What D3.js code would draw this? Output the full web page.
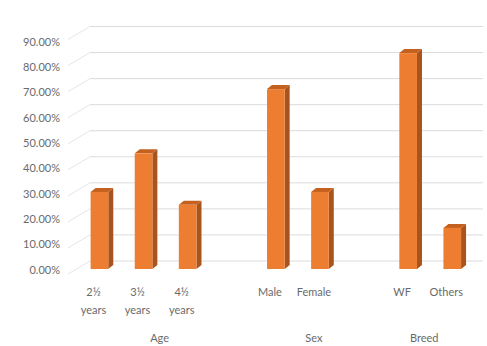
<!DOCTYPE html>
<html><head><meta charset="utf-8">
<script src="https://cdn.jsdelivr.net/npm/d3@7"></script>
<style>body{margin:0;background:#fff}svg{display:block}text{font-family:Lato,"Open Sans",sans-serif;fill:#6a6a6a;font-size:11px}</style>
</head><body><svg id="c" width="487" height="346"></svg>
<script>
// slots incl. blank separators (as in the source sheet)
const categories = ["2½ years","3½ years","4½ years","","Male","Female","","WF","Others"];
const values     = [0.30, 0.45, 0.25, null, 0.70, 0.30, null, 0.84, 0.16];
const groups     = [{name:"Age",from:0,to:3},{name:"Sex",from:4,to:6},{name:"Breed",from:7,to:8}];
const yTicks     = [0,0.1,0.2,0.3,0.4,0.5,0.6,0.7,0.8,0.9];

const svg = d3.select("#c");
const slots = d3.range(categories.length);
const x = d3.scaleBand().domain(slots).range([77.4, 474.3]).padding(0);
const yBack  = d3.scaleLinear().domain([0,0.9]).range([261,26.5]);
const yFront = d3.scaleLinear().domain([0,0.9]).range([270,41.7]);
const yBar   = d3.scaleLinear().domain([0,0.9]).range([269,37.7]);
const depthX = 5, depthY = 4;

// gridlines: back wall + left wall diagonals
const g = svg.append("g");
yTicks.forEach(t=>{
  g.append("line").attr("x1",90).attr("x2",483).attr("y1",yBack(t)).attr("y2",yBack(t))
   .attr("stroke","#dcdcdc").attr("stroke-width",1);
  g.append("line").attr("x1",68).attr("y1",yBack(t)+13).attr("x2",90).attr("y2",yBack(t))
   .attr("stroke","#e6e6e6").attr("stroke-width",1);
});
// y labels
svg.append("g").selectAll("text").data(yTicks).join("text")
  .attr("x",60).attr("y",d=>yFront(d)).attr("dy","0.35em").attr("text-anchor","end")
  .text(d=>d3.format(".2%")(d));

// bars
const bw = x.bandwidth()*0.4;
const bars = svg.append("g").selectAll("g").data(slots.filter(i=>values[i]!=null)).join("g");
bars.each(function(i){
  const s = d3.select(this);
  const x0 = x(i)+x.bandwidth()*0.3, x1 = x0+bw;
  const yt = yBar(values[i]), yb = yBar(0);
  s.append("path").attr("d",`M${x1},${yt}L${x1+depthX},${yt-depthY}L${x1+depthX},${yb-depthY}L${x1},${yb}Z`).attr("fill","#A9541D");
  s.append("path").attr("d",`M${x0},${yt}L${x0+depthX},${yt-depthY}L${x1+depthX},${yt-depthY}L${x1},${yt}Z`).attr("fill","#C4611F");
  s.append("rect").attr("x",x0).attr("y",yt).attr("width",bw).attr("height",yb-yt).attr("fill","#ED7D31");
});

// category labels
const shift = -6;
const cl = svg.append("g").selectAll("text").data(slots.filter(i=>categories[i])).join("text")
  .attr("text-anchor","middle").attr("x",i=>x(i)+x.bandwidth()/2+shift).attr("y",295.5);
cl.each(function(i){
  const parts = categories[i].split(" ");
  const t = d3.select(this);
  parts.forEach((p,k)=>t.append("tspan").attr("x",x(i)+x.bandwidth()/2+shift).attr("dy",k?18.5:0).text(p));
});
// group labels
svg.append("g").selectAll("text").data(groups).join("text")
  .attr("text-anchor","middle")
  .attr("x",d=>(x(d.from)+x(d.to)+x.bandwidth())/2+shift).attr("y",342)
  .text(d=>d.name);
</script></body></html>
